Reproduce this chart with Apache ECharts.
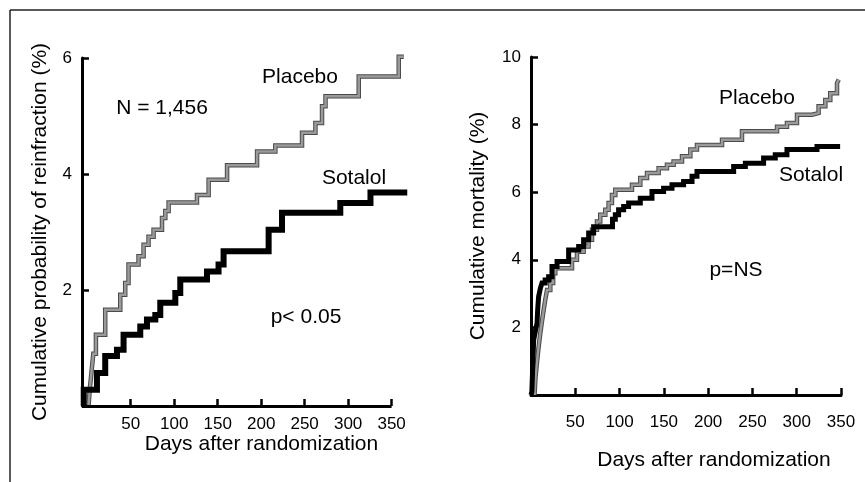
<!DOCTYPE html>
<html><head><meta charset="utf-8">
<script src="https://cdn.jsdelivr.net/npm/echarts@6/dist/echarts.min.js"></script>
<style>html,body{margin:0;padding:0;background:#fff}#c{width:865px;height:482px}</style>
</head><body><div id="c"></div>
<script>
// ---- data ----
const xTicks = [50, 100, 150, 200, 250, 300, 350];
const leftYTicks = [2, 4, 6];
const rightYTicks = [2, 4, 6, 8, 10];

// Reinfraction (left panel): [day, cumulative %]
const reinfPlacebo = [[1.5,0],[3,0.3],[5,0.6],[7,0.9],[10,1.23],[20.7,1.66],[38,1.92],[43.7,2.12],[47.5,2.44],[59,2.58],[64.8,2.78],[70.5,2.92],[76.3,3.04],[86,3.24],[89.8,3.36],[93.6,3.51],[126.2,3.64],[139.6,3.90],[160.8,4.15],[195.3,4.39],[216.3,4.49],[247,4.71],[262.4,4.88],[270,5.17],[274,5.34],[312.2,5.68],[358.2,6.02],[364,6.02]];
const reinfSotalol = [[-4,0],[-4,0.28],[11.2,0.57],[20.7,0.86],[34.2,0.97],[41.8,1.23],[61,1.37],[68.7,1.49],[78.3,1.57],[84,1.78],[101.3,1.95],[107,2.18],[137.7,2.32],[151,2.44],[156.8,2.67],[208.6,3.04],[224,3.33],[291,3.50],[325.7,3.68],[368,3.68]];

// Mortality (right panel): [day, cumulative %]
const mortPlacebo = [[4,0],[5,0.5],[7,1.03],[8.5,1.4],[10.5,1.83],[12.5,2.2],[14.3,2.52],[16,2.8],[18.1,3.11],[21.8,3.31],[25,3.6],[27.4,3.75],[46.3,4.0],[51.9,4.24],[59.4,4.39],[65,4.59],[68.9,4.89],[74.5,5.13],[78.2,5.33],[83.9,5.48],[87.6,5.68],[91.4,5.92],[95.2,6.07],[114,6.22],[123.4,6.42],[131,6.57],[144.1,6.71],[153.5,6.81],[161,6.91],[170.5,7.06],[179.9,7.26],[187.4,7.40],[215.7,7.55],[238.2,7.80],[277.8,7.94],[289,8.05],[300.3,8.29],[317.3,8.34],[324.7,8.54],[332.3,8.73],[337.9,8.93],[345.5,9.23],[347.5,9.33]];
const mortSotalol = [[0,0],[1,0.1],[2,0.9],[3,1.63],[5,1.9],[6.8,2.12],[7.5,2.5],[8.6,2.91],[10.5,3.15],[12.4,3.31],[16,3.4],[19.9,3.50],[23.7,3.80],[29.4,3.95],[42.5,4.29],[53.8,4.39],[59.4,4.59],[65.1,4.79],[70.7,4.98],[92,5.2],[95.2,5.33],[98.9,5.48],[104.6,5.58],[110.2,5.68],[123.4,5.82],[136.6,6.02],[149.7,6.12],[159.2,6.22],[172.3,6.32],[181.8,6.47],[187.4,6.61],[228.8,6.76],[242,6.86],[262.6,7.01],[275.8,7.11],[289,7.26],[322.9,7.35],[349,7.35]];

const FONT = 'Liberation Sans, Arial, Helvetica, sans-serif';

function xAxisCfg(grid, min, max, showLine, gap, margin, shift) {
  return {
    gridIndex: grid, type: 'value', min: min, max: max,
    axisLine: {show: showLine, onZero: false, lineStyle: {color: '#000', width: 3}},
    axisTick: {show: true, inside: true, length: 7, customValues: xTicks, lineStyle: {color: '#000', width: 2.5}},
    axisLabel: {show: true, customValues: xTicks, margin: margin, fontSize: 17, color: '#000', fontFamily: FONT},
    splitLine: {show: false},
    name: 'Days after randomization', nameLocation: 'middle', nameGap: gap, nameMoveOverlap: false,
    nameTextStyle: {fontSize: 21, color: '#000', fontFamily: FONT, padding: [0, 0, 0, shift]}
  };
}
function yAxisCfg(grid, max, ticks, name, gap) {
  return {
    gridIndex: grid, type: 'value', min: 0, max: max,
    axisLine: {show: true, onZero: false, lineStyle: {color: '#000', width: 3}},
    axisTick: {show: true, inside: true, length: 7, customValues: ticks, lineStyle: {color: '#000', width: 2.5}},
    axisLabel: {customValues: ticks, margin: 10, fontSize: 17, color: '#000', fontFamily: FONT},
    splitLine: {show: false},
    name: name, nameLocation: 'middle', nameGap: gap, nameRotate: 90, nameMoveOverlap: false,
    nameTextStyle: {fontSize: 21, color: '#000', fontFamily: FONT}
  };
}
function line(xi, data, color, width, z) {
  return {type: 'line', xAxisIndex: xi, yAxisIndex: xi, data: data, step: 'end', showSymbol: false,
    symbol: 'none', clip: false, z: z, lineStyle: {color: color, width: width, cap: 'butt', join: 'miter'}};
}

// left panel: the x axis line runs from the left edge to the last tick only
const leftAxisSeries = line(0, [], '#000', 0, 5);
leftAxisSeries.markLine = {
  silent: true, symbol: 'none', animation: false,
  label: {show: false},
  lineStyle: {color: '#000', width: 3, type: 'solid'},
  data: [[{coord: [-6, 0]}, {coord: [xTicks[xTicks.length - 1], 0]}]]
};

const chart = echarts.init(document.getElementById('c'), null, {renderer: 'canvas'});
chart.setOption({
  animation: false,
  backgroundColor: '#fff',
  grid: [
    {left: 82, top: 58, width: 327, height: 348},
    {left: 531, top: 57, width: 310, height: 338}
  ],
  xAxis: [xAxisCfg(0, -6, 370, false, 28, 10, 32), xAxisCfg(1, 0, 350, true, 55, 19, 56)],
  yAxis: [
    yAxisCfg(0, 6, leftYTicks, 'Cumulative probability of reinfraction (%)', 31),
    yAxisCfg(1, 10, rightYTicks, 'Cumulative mortality (%)', 42)
  ],
  series: [
    line(0, reinfPlacebo, '#4a4a4a', 4.5, 2),
    line(0, reinfPlacebo, '#9a9a9a', 2.5, 3),
    line(0, reinfSotalol, '#000', 6, 4),
    leftAxisSeries,
    line(1, mortPlacebo, '#4a4a4a', 4.5, 2),
    line(1, mortPlacebo, '#9a9a9a', 2.5, 3),
    line(1, mortSotalol, '#000', 5, 4)
  ],
  graphic: [
    {type: 'line', shape: {x1: 10, y1: 10, x2: 865, y2: 10}, style: {stroke: '#222', lineWidth: 1.5}},
    {type: 'line', shape: {x1: 10, y1: 10, x2: 10, y2: 482}, style: {stroke: '#222', lineWidth: 1.5}},
    {type: 'text', x: 300, y: 77, style: {text: 'Placebo', font: '21px ' + FONT, fill: '#000', align: 'center', verticalAlign: 'middle'}},
    {type: 'text', x: 162, y: 108, style: {text: 'N = 1,456', font: '21px ' + FONT, fill: '#000', align: 'center', verticalAlign: 'middle'}},
    {type: 'text', x: 354, y: 178, style: {text: 'Sotalol', font: '21px ' + FONT, fill: '#000', align: 'center', verticalAlign: 'middle'}},
    {type: 'text', x: 306, y: 317, style: {text: 'p< 0.05', font: '21px ' + FONT, fill: '#000', align: 'center', verticalAlign: 'middle'}},
    {type: 'text', x: 757, y: 98, style: {text: 'Placebo', font: '21px ' + FONT, fill: '#000', align: 'center', verticalAlign: 'middle'}},
    {type: 'text', x: 811, y: 175, style: {text: 'Sotalol', font: '21px ' + FONT, fill: '#000', align: 'center', verticalAlign: 'middle'}},
    {type: 'text', x: 736, y: 270, style: {text: 'p=NS', font: '21px ' + FONT, fill: '#000', align: 'center', verticalAlign: 'middle'}}
  ]
});
</script>
</body></html>
